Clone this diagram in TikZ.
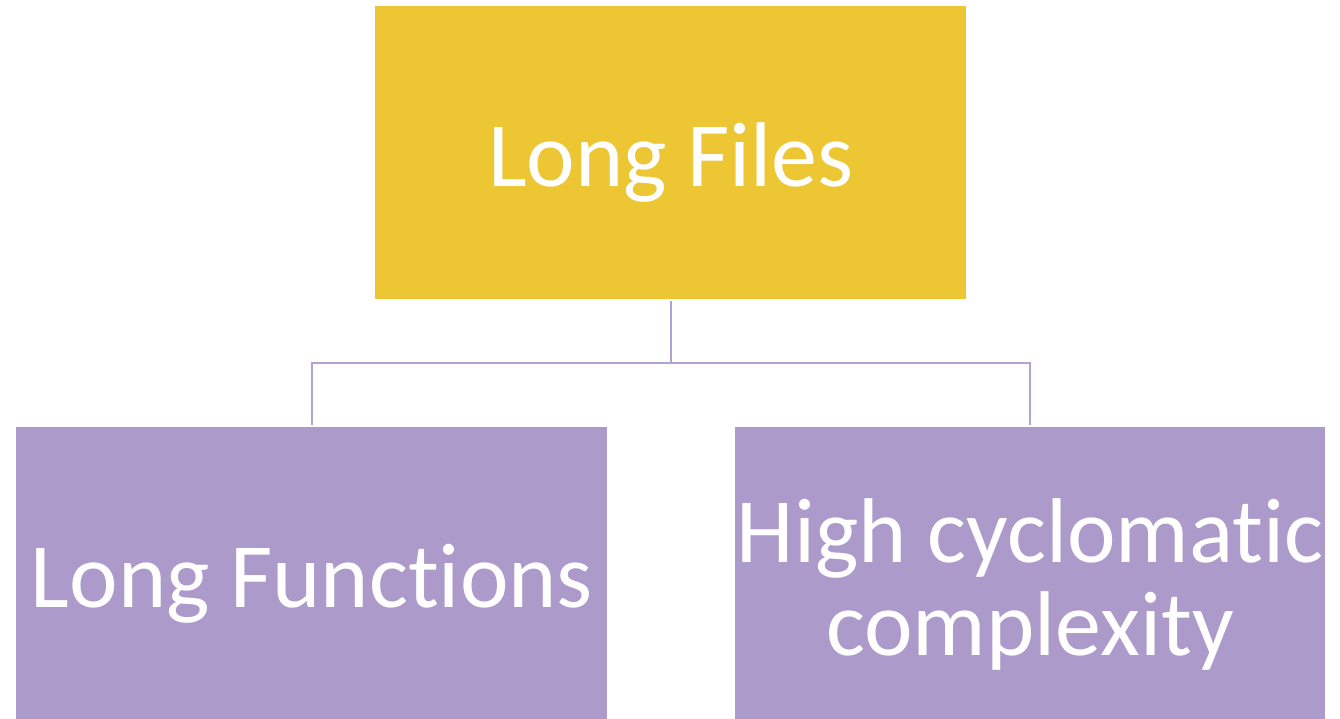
\documentclass[tikz,border=0pt]{standalone}
\usepackage{fontspec}
\setmainfont{Carlito}[Ligatures=NoCommon]
\definecolor{goldbox}{HTML}{ECC633}
\definecolor{lilacbox}{HTML}{AC9ACB}
\definecolor{lilacline}{HTML}{B3A2D3}
\begin{document}
\begin{tikzpicture}[x=1pt,y=-1pt,
  boxtext/.style={text=white,font=\fontsize{92}{93}\selectfont,align=center,inner sep=0pt},
  conn/.style={draw=lilacline,line width=2pt}]
\useasboundingbox (0,0) rectangle (1340,719);
\fill[goldbox] (375,6) rectangle (966,299);
\fill[lilacbox] (16,427) rectangle (607,719);
\fill[lilacbox] (735,427) rectangle (1325,719);
\coordinate (topbottom) at (670.5,301);
\coordinate (lefttop) at (311.5,425);
\coordinate (righttop) at (1029.5,425);
\node[boxtext] (top) at (671,162) {Long Files};
\node[boxtext] (left) at (312,584) {Long Functions};
\node[boxtext] (right) at (1030,584) {High cyclomatic\\complexity};
\draw[conn] (topbottom) -- ++(0,62) -| (lefttop);
\draw[conn] (topbottom) -- ++(0,62) -| (righttop);
\end{tikzpicture}
\end{document}
